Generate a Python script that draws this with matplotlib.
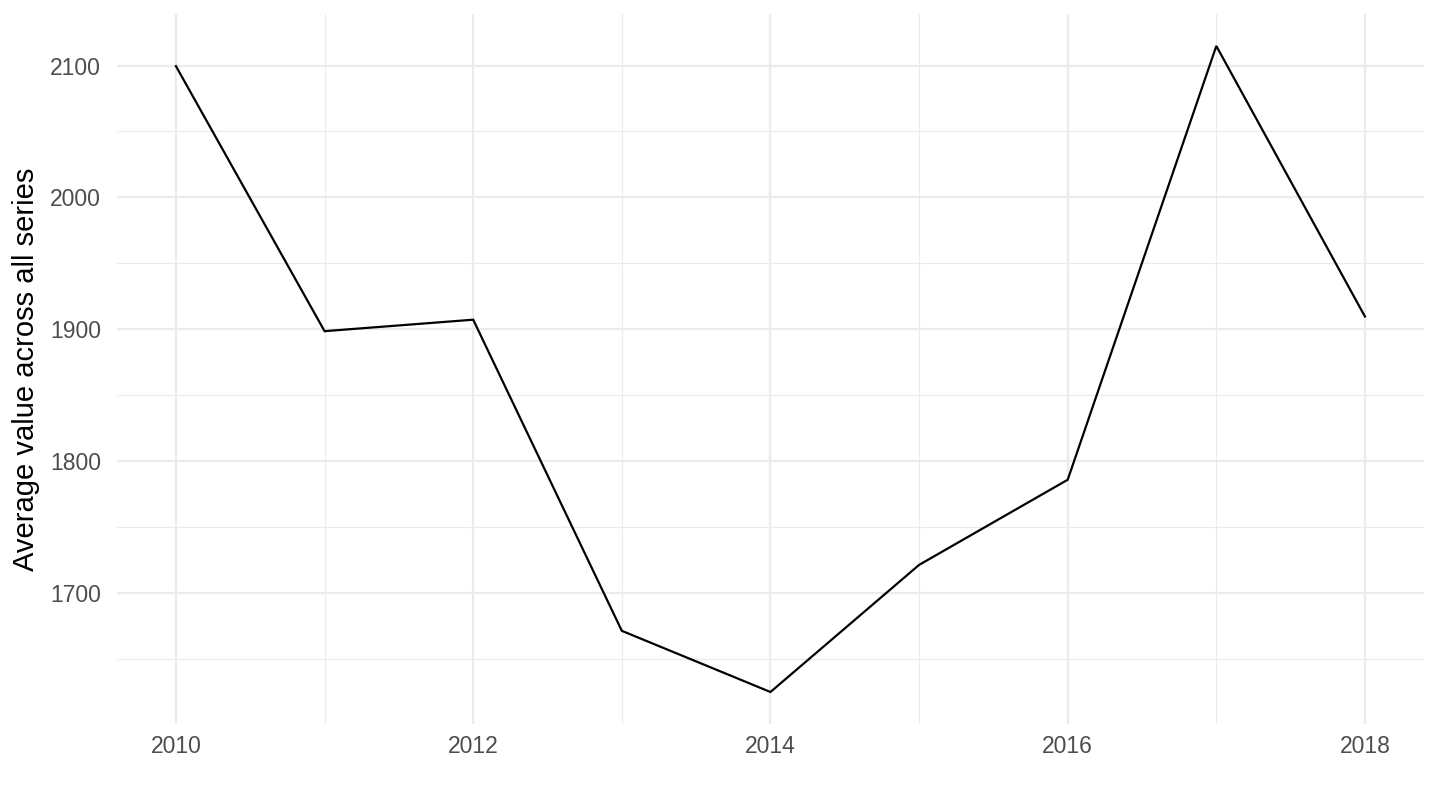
import matplotlib
matplotlib.use("Agg")
import matplotlib.pyplot as plt
from matplotlib.ticker import MultipleLocator

years = [2010, 2011, 2012, 2013, 2014, 2015, 2016, 2017, 2018]
values = [2099.5, 1898.5, 1907.2, 1671.2, 1624.8, 1721.2, 1785.8, 2114.8, 1909.6]
y_label = "Average value across all series"

plt.rcParams['font.family'] = ['Liberation Sans', 'DejaVu Sans']

fig = plt.figure(figsize=(14.4, 8.1), dpi=100)
ax = fig.add_axes([116.5 / 1440, 1 - 724.3 / 810, (1424.4 - 116.5) / 1440, (724.3 - 13.7) / 810])

ax.plot(years, values, color='black', linewidth=1.6, solid_joinstyle='miter', zorder=3)

xmin, xmax = min(years), max(years)
pad_x = (xmax - xmin) * 0.05
ax.set_xlim(xmin - pad_x, xmax + pad_x)
ymin, ymax = min(values), max(values)
pad_y = (ymax - ymin) * 0.05
ax.set_ylim(ymin - pad_y, ymax + pad_y)

ax.xaxis.set_major_locator(MultipleLocator(2))
ax.xaxis.set_minor_locator(MultipleLocator(1))
ax.yaxis.set_major_locator(MultipleLocator(100))
ax.yaxis.set_minor_locator(MultipleLocator(50))

ax.grid(which='major', color='#EBEBEB', linewidth=1.6, zorder=0)
ax.grid(which='minor', color='#EBEBEB', linewidth=0.8, zorder=0)
ax.set_axisbelow(True)

for s in ax.spines.values():
    s.set_visible(False)
ax.tick_params(which='both', length=0)
ax.tick_params(axis='both', labelsize=16.5, labelcolor='#4D4D4D')
ax.tick_params(axis='y', pad=11)
ax.tick_params(axis='x', pad=8)

ax.set_ylabel(y_label, fontsize=21, color='black', labelpad=7)

fig.savefig("out.png", dpi=100, facecolor='white')
